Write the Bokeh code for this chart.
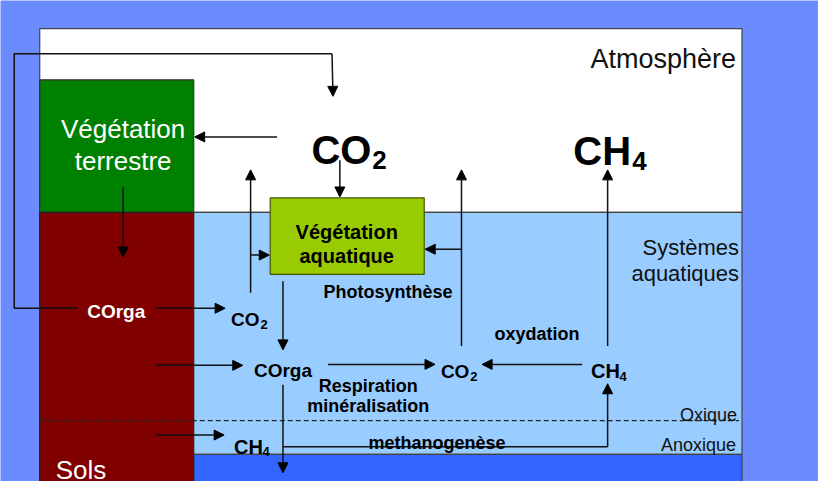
from bokeh.plotting import figure
from bokeh.models import Range1d, ColumnDataSource, Arrow, NormalHead
from bokeh.embed import file_html
from bokeh.resources import INLINE
from bokeh.core.properties import value

FONT = value("Liberation Sans")

# ---- compartments of the carbon-cycle diagram (diagram pixel coordinates) ----
zone_names = ["Atmosphère", "Systèmes aquatiques", "Sédiments",
              "Végétation terrestre", "Sols", "Végétation aquatique"]
zone_left = [40, 40, 40, 40, 40, 275]
zone_right = [756, 756, 756, 197, 197, 432]
zone_top = [29, 219, 469, 82, 219, 204]
zone_bottom = [219, 469, 530, 219, 530, 283]
zone_fill = ["#ffffff", "#99ccff", "#3366ff", "#008000", "#800000", "#99cc00"]
zone_line = ["#444444", "#444444", "#444444", "#333333", "#222222", "#445500"]

# ---- flux arrows (start -> head) ----
arrow_x0 = [338, 158, 282, 346, 255, 255, 288, 158, 334, 593, 470, 470, 619, 619, 158, 288, 125]
arrow_y0 = [55, 318, 141, 165, 302, 263, 290, 377, 376, 376, 357, 257, 357, 461, 449, 397, 193]
arrow_x1 = [339, 229, 198, 346, 255, 274, 288, 247, 443, 491, 470, 433, 619, 619, 228, 288, 125]
arrow_y1 = [99, 318, 141, 203, 175, 263, 361, 377, 376, 376, 175, 257, 175, 396, 449, 488, 265]

# ---- connector lines without heads ----
path_xs = [[79, 14, 14, 338], [288, 619]]
path_ys = [[318, 318, 55, 55], [461, 461]]

# ---- oxic / anoxic boundary ----
oxy_x = [40, 753]
oxy_y = [434, 434]

# ---- texts ----
zone_lbl_text = ["Atmosphère", "Systèmes", "aquatiques", "Oxique", "Anoxique"]
zone_lbl_x = [750, 753, 753, 751, 750]
zone_lbl_y = [60, 255, 282, 428, 459]
zone_lbl_size = ["27px", "22px", "22px", "18px", "18px"]

white_lbl_text = ["Végétation", "terrestre", "Sols"]
white_lbl_x = [125, 125, 82]
white_lbl_y = [133, 166, 485]
white_lbl_size = ["26px", "26px", "26px"]

white_bold_text = ["COrga", "enfouissement"]
white_bold_x = [118, 291]
white_bold_y = [321, 506]
white_bold_size = ["19px", "18px"]

species_text = ["CO", "CH", "CO", "CO", "CH", "CH"]
species_x = [317, 584, 235, 449, 602, 238]
species_y = [154, 155, 330, 383, 383, 461]
species_size = ["40px", "40px", "19px", "19px", "20px", "20px"]

sub_text = ["2", "4", "2", "2", "4", "4"]
sub_x = [379, 644, 265, 479, 631, 267]
sub_y = [165, 166, 335, 388, 388, 466]
sub_size = ["26px", "26px", "13px", "13px", "13px", "13px"]

process_text = ["Végétation", "aquatique", "Photosynthèse", "COrga", "Respiration",
                "minéralisation", "oxydation", "methanogenèse"]
process_x = [353, 353, 395, 288, 375, 375, 547, 445]
process_y = [239, 264, 301, 382, 398, 419, 345, 457]
process_size = ["20px", "20px", "18px", "19px", "18px", "18px", "18px", "18px"]

p = figure(width=818, height=481, output_backend="svg", toolbar_location=None,
           x_range=Range1d(0, 834), y_range=Range1d(497, 0),
           x_axis_type=None, y_axis_type=None, min_border=0)
p.grid.visible = False
p.outline_line_color = None
p.background_fill_color = "#6b8cff"
p.border_fill_color = "#6b8cff"

zones = ColumnDataSource(dict(name=zone_names, left=zone_left, right=zone_right,
                              top=zone_top, bottom=zone_bottom, fill=zone_fill, line=zone_line))
p.quad(left="left", right="right", top="top", bottom="bottom", fill_color="fill",
       line_color="line", line_width=1.2, source=zones)

p.line(oxy_x, oxy_y, line_color="#222222", line_width=1.2, line_dash="5 3")

p.multi_line(path_xs, path_ys, line_color="#111111", line_width=1.5)

arrows = ColumnDataSource(dict(x0=arrow_x0, y0=arrow_y0, x1=arrow_x1, y1=arrow_y1))
p.add_layout(Arrow(end=NormalHead(size=10, fill_color="#000000", line_color="#000000", line_width=1),
                   x_start="x0", y_start="y0", x_end="x1", y_end="y1",
                   line_color="#111111", line_width=1.5, source=arrows))

p.text(x=zone_lbl_x, y=zone_lbl_y, text=zone_lbl_text, text_font_size=zone_lbl_size,
       text_font=FONT, text_align="right", text_baseline="alphabetic", text_color="#111111")
p.text(x=white_lbl_x, y=white_lbl_y, text=white_lbl_text, text_font_size=white_lbl_size,
       text_font=FONT, text_align="center", text_baseline="alphabetic", text_color="#ffffff")
p.text(x=white_bold_x, y=white_bold_y, text=white_bold_text, text_font_size=white_bold_size,
       text_font=FONT, text_font_style="bold", text_align="center", text_baseline="alphabetic",
       text_color="#ffffff")
p.text(x=species_x, y=species_y, text=species_text, text_font_size=species_size,
       text_font=FONT, text_font_style="bold", text_align="left", text_baseline="alphabetic",
       text_color="#000000")
p.text(x=sub_x, y=sub_y, text=sub_text, text_font_size=sub_size,
       text_font=FONT, text_font_style="bold", text_align="left", text_baseline="alphabetic",
       text_color="#000000")
p.text(x=process_x, y=process_y, text=process_text, text_font_size=process_size,
       text_font=FONT, text_font_style="bold", text_align="center", text_baseline="alphabetic",
       text_color="#000000")

open("out.html", "w").write(file_html(p, INLINE))
